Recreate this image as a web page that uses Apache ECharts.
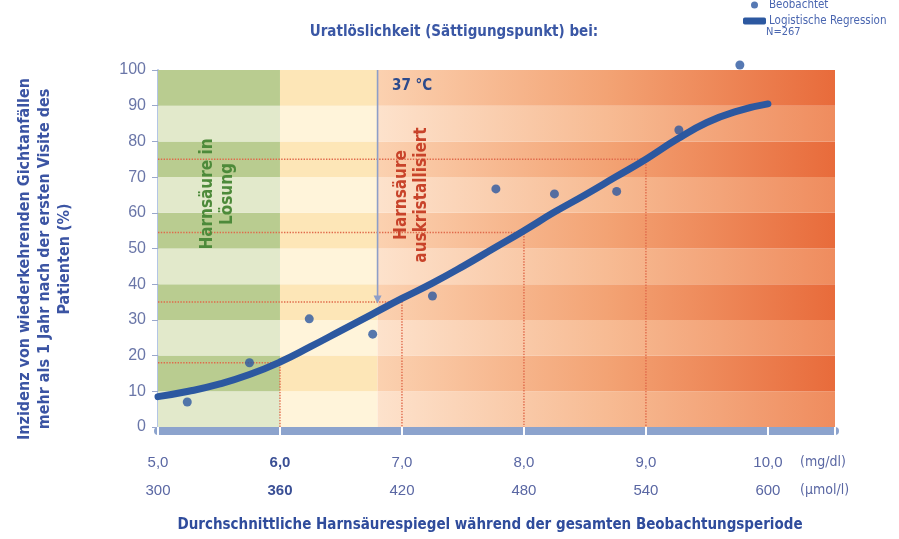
<!DOCTYPE html>
<html><head><meta charset="utf-8">
<script src="https://cdn.jsdelivr.net/npm/echarts@6/dist/echarts.min.js"></script>
<style>html,body{margin:0;padding:0;background:#fff;}#c{width:899px;height:539px;}</style>
</head><body><div id="c"></div>
<script>
// ---- data ----
const xTickMg = ['5,0', '6,0', '7,0', '8,0', '9,0', '10,0'];
const xTickUmol = ['300', '360', '420', '480', '540', '600'];
const xTickValues = [5, 6, 7, 8, 9, 10];
const yTicks = [0, 10, 20, 30, 40, 50, 60, 70, 80, 90, 100];
const obsX = [5.24, 5.75, 6.24, 6.76, 7.25, 7.77, 8.25, 8.76, 9.27, 9.77];
const obsY = [7, 18, 30.3, 26, 36.7, 66.7, 65.3, 66, 83.2, 101.4];
const regX = [5.0, 5.25, 5.5, 5.75, 6.0, 6.25, 6.5, 6.75, 7.0, 7.25, 7.5, 7.75, 8.0, 8.25, 8.5, 8.75, 9.0, 9.25, 9.5, 9.75, 10.0];
const regY = [8.5, 10, 12, 14.7, 18.2, 22.5, 27, 31.5, 36, 40.3, 45, 50, 55, 60.2, 65, 70, 75, 80.5, 85.3, 88.5, 90.5];
const refX = [6, 7, 8, 9];
const refY = [18, 35, 54.5, 75];
const saturationX = 6.8;
const saturationArrowY = 34.5;
const zoneBounds = [5, 6, 6.8, 10.55];
const stripeBounds = [0, 10, 20, 30, 40, 50, 60, 70, 80, 90, 100];

// ---- styles ----
const FN = "'Liberation Sans Narrow', 'DejaVu Sans Condensed', sans-serif";
const FR = "'Liberation Sans', Arial, sans-serif";
const blue = '#2c58a0';
const G = echarts.graphic.LinearGradient;
const fills = [
  ['#e2e9cb', '#b9cc90'],
  ['#fff4da', '#fde6b7'],
  [new G(0, 0, 1, 0, [{offset: 0, color: '#fde2cc'}, {offset: 0.5, color: '#f7bb93'}, {offset: 1, color: '#ef8c5e'}]),
   new G(0, 0, 1, 0, [{offset: 0, color: '#fbd1b0'}, {offset: 0.5, color: '#f3a374'}, {offset: 1, color: '#e86b3b'}])]
];

const bgData = [];
for (let z = 0; z < zoneBounds.length - 1; z++) {
  for (let s = 0; s < stripeBounds.length - 1; s++) {
    bgData.push([zoneBounds[z], zoneBounds[z + 1], stripeBounds[s], stripeBounds[s + 1], z, s % 2]);
  }
}

const refSeries = refX.map((rx, i) => ({
  type: 'line', z: 3, silent: true, symbol: 'none',
  lineStyle: {color: '#e0694a', width: 1.4, type: 'dotted'},
  data: [[zoneBounds[0], refY[i]], [rx, refY[i]], [rx, 0]]
}));

const chart = echarts.init(document.getElementById('c'));
chart.setOption({
  animation: false,
  grid: {left: 158, right: 64, top: 70, bottom: 112},
  legend: {
    orient: 'vertical', left: 738, top: -6, itemGap: 4, itemWidth: 23, itemHeight: 7,
    textStyle: {fontFamily: FN, fontSize: 11.5, color: '#4a66b0', padding: [0, 0, 0, -2]},
    data: [{name: 'Beobachtet', icon: 'circle'}, {name: 'Logistische Regression', icon: 'roundRect'}]
  },
  xAxis: [{
    type: 'value', min: zoneBounds[0], max: zoneBounds[3], interval: 1, position: 'bottom', offset: 4,
    splitLine: {show: false},
    axisLine: {show: true, onZero: false, lineStyle: {color: '#8ca3cd', width: 8}},
    axisTick: {show: false},
    axisLabel: {
      margin: 18, showMaxLabel: false,
      formatter: v => {
        const i = xTickValues.indexOf(Math.round(v * 100) / 100);
        if (i < 0) return '';
        const st = i === 1 ? 'b' : 'n';
        return '{' + st + '|' + xTickMg[i] + '}\n{' + st + '|' + xTickUmol[i] + '}';
      },
      rich: {
        n: {fontFamily: FR, fontSize: 15, color: '#5a67a3', lineHeight: 28},
        b: {fontFamily: FR, fontSize: 15, fontWeight: 'bold', color: '#3a4f95', lineHeight: 28}
      }
    }
  }, {
    type: 'value', min: zoneBounds[0], max: zoneBounds[3], interval: 1, position: 'bottom', offset: 0,
    splitLine: {show: false}, axisLine: {show: false, onZero: false}, axisLabel: {show: false},
    axisTick: {show: true, inside: false, length: 8, lineStyle: {color: '#ffffff', width: 2}}
  }],
  yAxis: {
    type: 'value', min: yTicks[0], max: yTicks[yTicks.length - 1], interval: 10,
    splitLine: {show: false},
    axisLine: {show: true, lineStyle: {color: '#b3c5e6', width: 2}},
    axisTick: {show: true, length: 6, lineStyle: {color: '#9aa8cc'}},
    axisLabel: {fontFamily: FR, fontSize: 16, color: '#6a76a8', margin: 12}
  },
  series: [
    {
      type: 'custom', z: 1, silent: true, clip: true,
      renderItem: (params, api) => {
        const p0 = api.coord([api.value(0), api.value(3)]);
        const p1 = api.coord([api.value(1), api.value(2)]);
        return {type: 'rect', shape: {x: p0[0], y: p0[1], width: p1[0] - p0[0], height: p1[1] - p0[1]},
          style: {fill: fills[api.value(4)][api.value(5)]}};
      },
      encode: {x: [0, 1], y: [2, 3]},
      data: bgData
    },
    ...refSeries,
    {
      type: 'line', z: 4, silent: true, symbol: 'none',
      lineStyle: {color: '#8d9ec8', width: 1.6},
      data: [[saturationX, 100], [saturationX, saturationArrowY + 2]],
      markPoint: {
        symbol: 'triangle', symbolSize: [8, 8], symbolRotate: 180,
        itemStyle: {color: '#8d9ec8'}, label: {show: false},
        data: [{coord: [saturationX, saturationArrowY + 1.2]}]
      }
    },
    {
      name: 'Logistische Regression', type: 'line', z: 5, smooth: true, symbol: 'none',
      lineStyle: {color: blue, width: 7, cap: 'round'}, itemStyle: {color: blue},
      data: regX.map((x, i) => [x, regY[i]])
    },
    {
      name: 'Beobachtet', type: 'scatter', z: 6, symbolSize: 9, clip: false,
      itemStyle: {color: blue},
      data: obsX.map((x, i) => [x, obsY[i]])
    }
  ],
  graphic: [
    {type: 'text', z: 100, x: 454, y: 25, style: {text: 'Uratlöslichkeit (Sättigungspunkt) bei:', font: 'bold 15px ' + FN, fill: '#3a57a5', align: 'center'}},
    {type: 'text', z: 100, x: 766, y: 27, style: {text: 'N=267', font: '11px ' + FN, fill: '#4a66b0'}},
    {type: 'text', z: 100, x: 392, y: 79, style: {text: '37 °C', font: 'bold 15px ' + FN, fill: '#2c4a8c'}},
    {type: 'text', z: 100, x: 218, y: 194, rotation: Math.PI / 2,
      style: {text: 'Harnsäure in\nLösung', font: 'bold 17px ' + FN, fill: '#4d8a3a', align: 'center', verticalAlign: 'middle', lineHeight: 20}},
    {type: 'text', z: 100, x: 412, y: 195, rotation: Math.PI / 2,
      style: {text: 'Harnsäure\nauskristallisiert', font: 'bold 17px ' + FN, fill: '#c8432a', align: 'center', verticalAlign: 'middle', lineHeight: 20}},
    {type: 'text', z: 100, x: 45, y: 259, rotation: Math.PI / 2,
      style: {text: 'Inzidenz von wiederkehrenden Gichtanfällen\nmehr als 1 Jahr nach der ersten Visite des\nPatienten (%)', font: 'bold 16px ' + FN, fill: '#3b54a3', align: 'center', verticalAlign: 'middle', lineHeight: 20}},
    {type: 'text', z: 100, x: 490, y: 518, style: {text: 'Durchschnittliche Harnsäurespiegel während der gesamten Beobachtungsperiode', font: 'bold 15px ' + FN, fill: '#2f4c9c', align: 'center'}},
    {type: 'text', z: 100, x: 800, y: 455, style: {text: '(mg/dl)', font: '14px ' + FN, fill: '#5a67a3'}},
    {type: 'text', z: 100, x: 800, y: 483, style: {text: '(µmol/l)', font: '14px ' + FN, fill: '#5a67a3'}}
  ]
});
</script></body></html>
